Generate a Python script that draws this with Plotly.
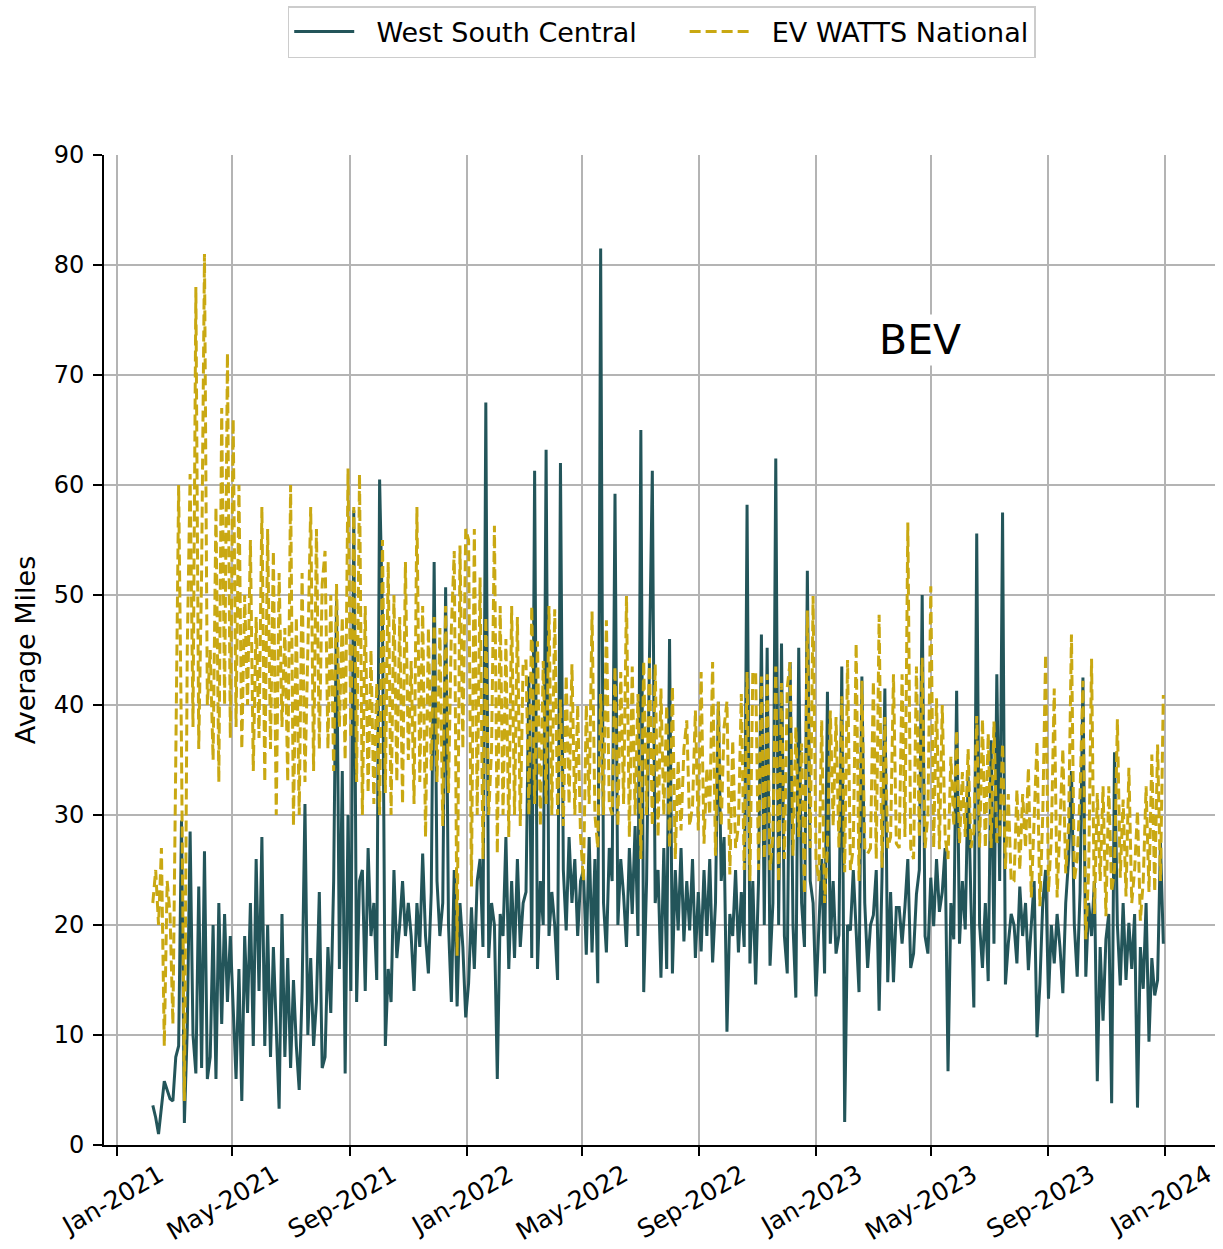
import pandas as pd
import plotly.graph_objects as go

start_date = "2021-02-07"
step = "3D"

west_south_central = [
    3.6, 2.5, 1.0, 3.5, 5.8, 5.0, 4.2, 4.0, 8.0, 9.0,
    29.5, 2.0, 10.5, 28.5, 10.0, 6.5, 23.5, 7.0, 26.7, 6.0,
    8, 20, 6, 22, 11, 21, 13, 19, 12, 6,
    16, 4, 19, 12, 22, 9, 26, 14, 28, 9,
    20, 8, 18, 11, 3.3, 21, 8, 17, 7, 15,
    9, 5, 14, 31, 10, 17, 9, 13, 23, 7,
    8, 18, 12, 24, 49.5, 16, 34, 6.5, 30, 14,
    57.7, 13, 24, 25, 14, 27, 19, 22, 15, 60.5,
    48, 9, 16, 13, 25, 17, 20, 24, 19, 22,
    19, 14, 22, 18, 26.5, 19, 15.6, 23, 53, 24,
    19, 22, 50.7, 20, 13, 25, 12.6, 22, 18, 11.6,
    14.7, 21.6, 16, 24, 26, 18, 67.5, 17, 22, 20,
    6, 21, 19, 28, 16, 24, 17, 26, 18, 22,
    23, 42.6, 17, 61.3, 16, 24, 20, 63.2, 19, 23,
    20, 15, 62, 25, 19.5, 28, 22, 26, 19, 24,
    25, 17.3, 28, 17.5, 26, 14.7, 81.5, 22, 17.5, 27,
    24, 59.2, 20, 26, 22.7, 18, 27, 21, 29, 19,
    65, 13.9, 24, 44.3, 61.3, 22, 25, 15.2, 27, 16,
    46, 15.6, 25, 19.5, 27, 18.5, 24, 19.5, 26, 17,
    23, 17.6, 25, 19, 26, 16.6, 22, 40.3, 24, 28,
    10.3, 21, 19, 25, 17.5, 23, 18, 58.2, 16.5, 24,
    14.6, 24, 46.4, 20, 45.2, 16.3, 22, 62.4, 20, 45.6,
    19, 15.6, 43.9, 20, 13.4, 45.2, 22, 18, 52.2, 24,
    22, 13.5, 19.5, 26, 15.6, 41.2, 18.3, 24, 17.4, 19.1,
    43.5, 2.1, 20, 19.5, 25, 19, 13.9, 42.6, 22, 16.1,
    20, 20.9, 25, 12.2, 24.3, 41.5, 14.8, 23, 14.8, 21.6,
    21.6, 18.3, 21.7, 26, 16.1, 17.4, 22.8, 25, 50, 19,
    17.4, 24.3, 19.9, 26, 21.2, 23, 27, 6.7, 22, 18.7,
    41.3, 18.3, 24, 19.6, 33.5, 22, 12.5, 55.6, 20, 16.1,
    22, 14.9, 36.8, 18.3, 42.8, 24, 57.5, 14.6, 18.3, 21,
    20, 16.5, 23.5, 19, 22, 15.9, 20, 24, 9.8, 14.6,
    22, 25, 13.3, 20, 16.5, 21, 18, 13.8, 22, 26,
    34, 20, 15.3, 23, 42.5, 15.3, 22, 19, 24, 5.8,
    18, 11.3, 18.7, 21, 3.8, 35.7, 20, 14.5, 22, 15,
    20.2, 16, 21, 3.4, 18, 14.2, 22, 9.4, 17, 13.6,
    15, 27.5, 18.3,
]

ev_watts_national = [
    22, 25, 20, 27, 9, 24, 21, 11, 35, 60,
    36, 4, 45, 61, 38, 78, 36, 52, 81, 40,
    45, 35, 58, 33, 67, 40, 72, 37, 66, 38,
    60, 36, 50, 40, 55, 34, 48, 37, 58, 33,
    56, 36, 54, 30, 52, 38, 47, 33, 60, 29,
    48, 30, 52, 33, 45, 58, 34, 56, 36, 51,
    54, 36, 50, 34, 51, 38, 48, 35, 61.5, 37,
    58, 33, 61, 30, 49, 32, 45, 31, 42, 30,
    55, 32, 53, 30, 50, 33, 48, 31, 53, 35,
    44, 31, 58, 33, 49, 28, 47, 34, 48, 33,
    47, 29, 49, 32, 47, 54, 17.2, 54.5, 36, 56,
    55, 23.5, 56, 30, 51.6, 26, 48, 30, 36, 56.3,
    26.5, 49, 30, 46, 28, 49, 30, 48, 29, 44,
    44, 30, 49, 31, 45.8, 29, 44, 31, 49, 30,
    48.7, 30, 40.5, 29, 42.7, 31, 43.7, 30, 40, 28,
    24, 40, 31, 48.5, 30, 27, 41, 30, 47.7, 31,
    30, 43.5, 29, 43, 31, 49.9, 28, 43.5, 30, 41,
    26, 44, 30, 44.3, 29, 43.7, 28, 41.5, 30, 40,
    27, 41.7, 26, 35, 28.6, 36, 38.6, 29, 30.8, 39.5,
    28.6, 43, 27.4, 34.3, 30, 43.9, 26.3, 40.3, 29, 38,
    40.3, 24.6, 36.8, 27, 29, 41, 25, 43, 24, 43,
    43, 25, 42.6, 26, 42.8, 25, 28, 43.5, 23.9, 42,
    26, 41.6, 43.9, 26.3, 38, 28, 36.5, 22.8, 48.6, 27,
    49.9, 26, 24, 38.6, 22, 27, 39.5, 29, 38.9, 27,
    40.8, 24.8, 44.1, 25, 27, 45.6, 24, 42.2, 27, 26.5,
    27, 42.2, 26, 48.2, 25.2, 38.9, 27, 28, 42.8, 27.4,
    27, 42.8, 28, 56.6, 27, 26, 43.5, 28, 44.3, 27,
    30, 50.8, 27, 40.6, 26.9, 40, 28, 26, 35.3, 29,
    37.7, 27.4, 33.9, 28, 36, 27, 28.5, 39, 27, 38.7,
    27, 37.4, 27, 38.5, 27.5, 28, 36.5, 25.1, 31.9, 23.9,
    24, 32.3, 25, 31.9, 27, 34.3, 22.5, 30, 36.7, 21.7,
    30, 44.6, 23, 28, 41.5, 22.5, 30, 36, 24.7, 29,
    46.4, 24, 26, 32, 42.2, 18.7, 25, 44.2, 21, 32,
    24, 32.6, 20.8, 32.6, 23, 25, 38.7, 24.3, 31.4, 22.6,
    34.3, 22, 25, 30.4, 20.4, 24, 32.6, 23, 35.5, 23,
    36.4, 24, 40.9,
]

tick_dates = ["2021-01-01", "2021-05-01", "2021-09-01", "2022-01-01", "2022-05-01",
              "2022-09-01", "2023-01-01", "2023-05-01", "2023-09-01", "2024-01-01"]
tick_text = ["Jan-2021", "May-2021", "Sep-2021", "Jan-2022", "May-2022",
             "Sep-2022", "Jan-2023", "May-2023", "Sep-2023", "Jan-2024"]

dates = pd.date_range(start_date, periods=len(west_south_central), freq=step)

font = "DejaVu Sans, Verdana, sans-serif"
gap = "\u00a0" * 2
fig = go.Figure()
fig.add_trace(go.Scatter(x=dates, y=west_south_central, mode='lines',
                         name=gap + 'West South Central' + "\u00a0" * 5,
                         line=dict(width=3, color='#23555a')))
fig.add_trace(go.Scatter(x=dates, y=ev_watts_national, mode='lines', name=gap + 'EV WATTS National',
                         line=dict(width=3, color='#c9a812', dash='11px,5px')))

fig.add_annotation(x="2023-04-20", y=73.2, text="BEV", showarrow=False,
                   font=dict(size=41, color='black', family=font), bgcolor='white')

axis_style = dict(showgrid=True, gridcolor='#b4b4b4', gridwidth=1.5, showline=True, linecolor='black',
                  linewidth=1.6, ticks='outside', ticklen=9, tickwidth=1.5, tickcolor='black',
                  zeroline=False, automargin=False)
fig.update_xaxes(range=["2020-12-18", "2024-02-22"], tickvals=tick_dates, ticktext=tick_text,
                 tickangle=-30, ticklabelshift=42, ticklabelstandoff=-5,
                 tickfont=dict(size=25, color='black'), **axis_style)
fig.update_yaxes(range=[0, 90], dtick=10, ticklabelstandoff=4, tickfont=dict(size=24, color='black'),
                 title=dict(text='Average Miles', font=dict(size=27, color='black'), standoff=10),
                 **axis_style)
fig.update_layout(width=1223, height=1249, plot_bgcolor='white', paper_bgcolor='white',
                  font=dict(family=font, color='black'),
                  margin=dict(l=104, r=8, t=155, b=104, autoexpand=False),
                  legend=dict(orientation='h', x=0.502, xanchor='center', y=1.1505, yanchor='top',
                              bordercolor='#cccccc', borderwidth=1.5, bgcolor='white',
                              font=dict(size=27, color='black'), itemwidth=60))
# drop the default page margin so the figure sits at the window corner
fig.write_html("out.html", config={'displayModeBar': False},
               post_script="document.body.style.margin='0px';")
